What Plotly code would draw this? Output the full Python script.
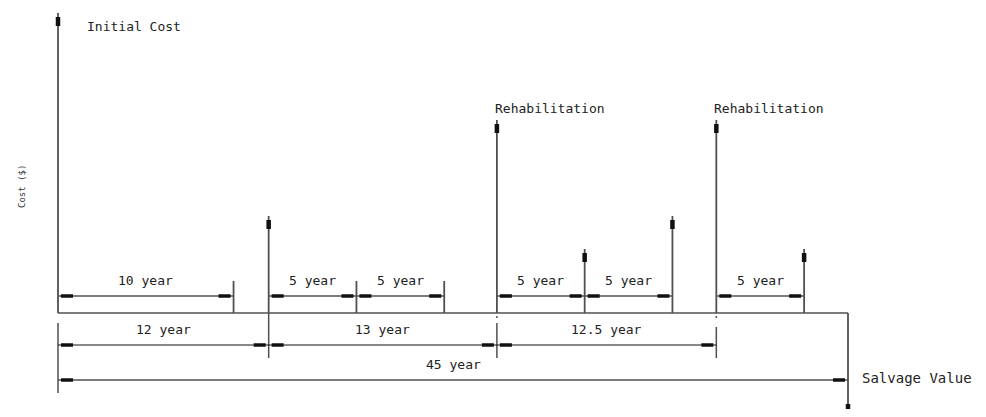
import plotly.graph_objects as go

# cash flow events (year, cost height in arbitrary $ units)
cost_years = [0, 12, 25, 30, 35, 37.5, 42.5]
cost_values = [300, 97, 193, 64, 97, 193, 64]
cost_labels = ["Initial Cost", "", "Rehabilitation", "", "", "Rehabilitation", ""]
salvage_year = 45
salvage_value = -103
tick_years = [10, 17, 22]
tick_height = 32

# dimension rows
row1_start = [0, 12, 17, 25, 30, 37.5]
row1_end = [10, 17, 22, 30, 35, 42.5]
row1_labels = ["10 year", "5 year", "5 year", "5 year", "5 year", "5 year"]
row2_start = [0, 12, 25]
row2_end = [12, 25, 37.5]
row2_labels = ["12 year", "13 year", "12.5 year"]
row3_start = [0]
row3_end = [45]
row3_labels = ["45 year"]

# page body has an 8px margin, so the figure sits 8px in from the corner
W, H = 970, 401
PX = 790 / 45.0          # pixels per year
X0 = 50                  # pixel of year 0 inside the figure
BASE = 305               # pixel row of the time line inside the figure
x_range = [-X0 / PX, (W - X0) / PX]
y_range = [BASE - H, BASE]

LINE = "#505050"
FONT = dict(family="DejaVu Sans Mono", size=13, color="#222")

fig = go.Figure()


def seg(xs, ys, color=LINE, width=1.5):
    fig.add_trace(go.Scatter(x=xs, y=ys, mode="lines", hoverinfo="skip",
                             line=dict(color=color, width=width), showlegend=False))


def collect(pairs):
    xs, ys = [], []
    for (xa, ya, xb, yb) in pairs:
        xs += [xa, xb, None]
        ys += [ya, yb, None]
    return xs, ys


# time line
seg([0, salvage_year], [0, 0], width=1.5)

# cost arrows
shafts, heads = [], []
for yr, c in zip(cost_years, cost_values):
    shafts.append((yr, 0, yr, c))
    heads.append((yr, c - 4, yr, c - 13))
shafts.append((salvage_year, 0, salvage_year, salvage_value))
heads.append((salvage_year, salvage_value + 4, salvage_year, salvage_value + 12))
for yr in tick_years:
    shafts.append((yr, 0, yr, tick_height))
xs, ys = collect(shafts)
seg(xs, ys, width=1.8)
xs, ys = collect(heads)
seg(xs, ys, color="#111", width=4.5)

# extension lines below the time line
ext = [(0, -10, 0, -80), (12, 0, 12, -45), (25, -10, 25, -45), (37.5, -14, 37.5, -45)]
xs, ys = collect(ext)
seg(xs, ys, width=1.5)
fig.add_trace(go.Scatter(x=[25, 37.5], y=[-4, -4], mode="markers", hoverinfo="skip",
                         marker=dict(size=2, color=LINE), showlegend=False))

# dimension rows
off = 3 / PX
alen = 12 / PX
for starts, ends, labels, lvl, color, lw in [
    (row1_start, row1_end, row1_labels, 17, LINE, 1.3),
    (row2_start, row2_end, row2_labels, -32, "#111", 1.0),
    (row3_start, row3_end, row3_labels, -67, LINE, 1.3),
]:
    lines, arrows = [], []
    for a, b, lab in zip(starts, ends, labels):
        lines.append((a, lvl, b, lvl))
        arrows.append((a + off, lvl, a + off + alen, lvl))
        arrows.append((b - off, lvl, b - off - alen, lvl))
        fig.add_annotation(x=(a + b) / 2, y=lvl + 16, text=lab, showarrow=False,
                           font=FONT, xanchor="center", yanchor="middle")
    xs, ys = collect(lines)
    seg(xs, ys, color=color, width=lw)
    xs, ys = collect(arrows)
    seg(xs, ys, color="#111", width=3.5)

# event labels
for yr, c, lab in zip(cost_years, cost_values, cost_labels):
    if not lab:
        continue
    if yr == 0:
        fig.add_annotation(x=yr, y=c - 13, text=lab, showarrow=False, font=FONT,
                           xanchor="left", xshift=27, yanchor="middle")
    else:
        fig.add_annotation(x=yr, y=c + 12, text=lab, showarrow=False, font=FONT,
                           xanchor="left", xshift=-4, yanchor="middle")
fig.add_annotation(x=salvage_year, y=-65, text="Salvage Value", showarrow=False,
                   font=dict(family="DejaVu Sans Mono", size=14, color="#222"),
                   xanchor="left", xshift=12, yanchor="middle")
fig.add_annotation(x=x_range[0], y=BASE - 179, text="Cost ($)", showarrow=False,
                   font=dict(family="DejaVu Sans Mono", size=9, color="#333"),
                   textangle=-90, xanchor="center", xshift=14, yanchor="middle")

fig.update_layout(
    width=W, height=H,
    margin=dict(l=0, r=0, t=0, b=0),
    plot_bgcolor="white", paper_bgcolor="white",
    xaxis=dict(range=x_range, visible=False, fixedrange=True),
    yaxis=dict(range=y_range, visible=False, fixedrange=True),
)

fig.write_html("out.html")
